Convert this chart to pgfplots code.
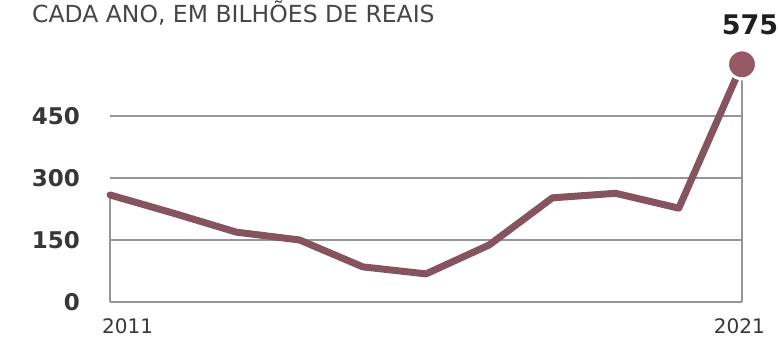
\documentclass[border=0pt]{standalone}
\usepackage{pgfplots}
\pgfplotsset{compat=1.18}
\usepackage{fontspec}
\setmainfont{DejaVu Sans}
\definecolor{linec}{RGB}{133,84,94}
\definecolor{dotc}{RGB}{150,88,100}
\definecolor{gridc}{RGB}{150,150,150}
\definecolor{txt}{RGB}{70,70,70}
\definecolor{tick}{RGB}{55,55,55}
\begin{document}
\begin{tikzpicture}[x=1pt,y=1pt]
\path[use as bounding box] (0,0) rectangle (778,343);
\node[anchor=base west, inner sep=0, text=txt, font=\fontsize{23.5}{23.5}\selectfont] at (32,320) {CADA ANO, EM BILHÕES DE REAIS};
\begin{axis}[
  at={(110pt,41pt)}, anchor=south west,
  scale only axis, width=632pt, height=248pt,
  xmin=2011, xmax=2021, ymin=0, ymax=600,
  clip=false,
  axis line style={draw=none},
  tick style={draw=none},
  xtick=\empty,
  ytick={0,150,300,450},
  ymajorgrids,
  grid style={gridc, line width=1.3pt},
  yticklabel style={anchor=east, inner sep=0pt, xshift=-30pt, text=tick, font=\fontsize{23}{23}\selectfont\bfseries},
  /pgf/number format/assume math mode=true,
]
\addplot[gridc, line width=1.3pt, ycomb, mark=none] coordinates {(2011,259) (2021,560)};
\addplot[linec, line width=7pt, line join=round, line cap=round, mark=none] coordinates {
(2011,259) (2012,215) (2013,169) (2014,150) (2015,85) (2016,68) (2017,138) (2018,252) (2019,263) (2020,227) (2021,575)};
\addplot[only marks, mark=*, mark size=14.5pt, mark options={fill=dotc, draw=white, line width=3pt}] coordinates {(2021,575)};
\node[anchor=south, inner sep=0, text=black!88, font=\fontsize{27}{27}\selectfont\bfseries] at (axis cs:2021,575) [yshift=29.5pt, xshift=8pt] {575};
\node[anchor=north west, inner sep=0, text=tick, font=\fontsize{20}{20}\selectfont] at (axis cs:2011,0) [xshift=-8pt, yshift=-16pt] {2011};
\node[anchor=north east, inner sep=0, text=tick, font=\fontsize{20}{20}\selectfont] at (axis cs:2021,0) [xshift=23pt, yshift=-16pt] {2021};
\end{axis}
\end{tikzpicture}
\end{document}
